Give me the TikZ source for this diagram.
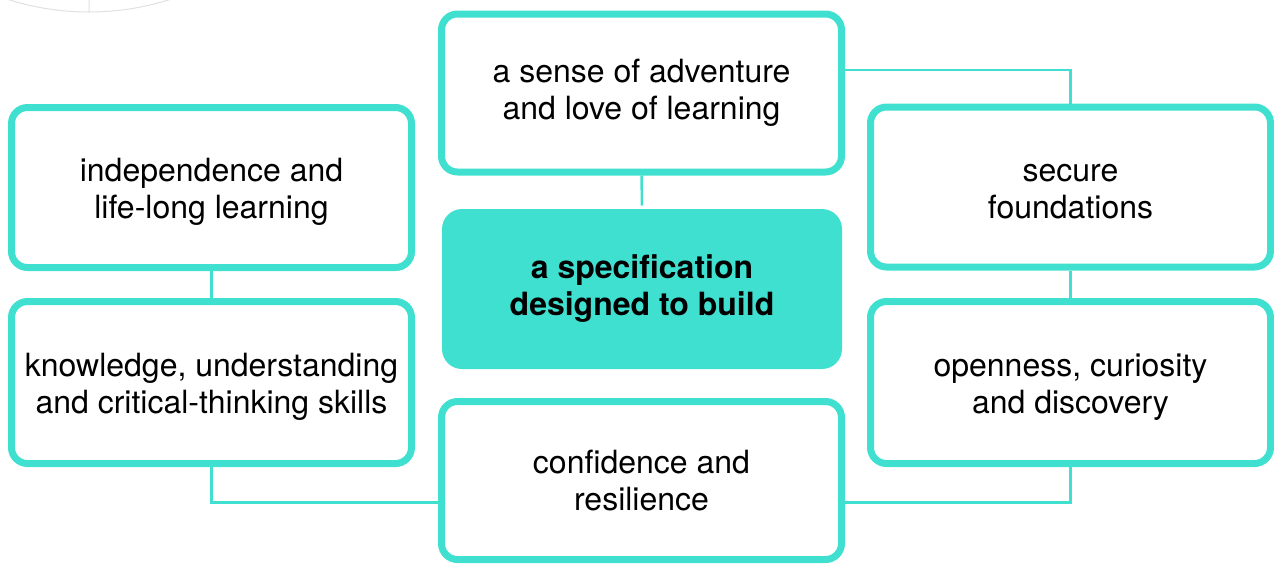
\documentclass[tikz,border=0pt]{standalone}
\usepackage{fontspec}
\setmainfont{TeX Gyre Heros}
\usepackage{tikz}
\definecolor{turq}{RGB}{64,224,208}

\begin{document}
\begin{tikzpicture}[x=1pt,y=-1pt]
			\tikzset{goal/.style={draw=turq,line width=7pt,fill=white,rounded corners=16pt,minimum width=400pt,minimum height=160pt,align=center,inner sep=2pt,font=\fontsize{32}{37}\selectfont}}
			\tikzset{side/.style={goal,text height=66pt,text depth=4pt}}
			\tikzset{hub/.style={goal,draw=none,fill=turq,minimum width=400pt,minimum height=160pt,rounded corners=20pt,font=\fontsize{32}{37}\selectfont\bfseries}}
			\tikzset{link/.style={draw=turq,line width=2.5pt}}
			\useasboundingbox (0,0) rectangle (1274,563);
			\draw[black!12,line width=1pt] (89,-254) circle (266pt) (89,0) -- (89,12);
			\node[hub] (spec) at (642,289) {a specification\\designed to build};
			\node[goal,minimum height=158pt] (adven) at (641.5,93) {a sense of adventure\\and love of learning};
			\node[side] (indep) at (211.5,187.5) {independence and\\life-long learning};
			\node[side,minimum height=162pt] (knowl) at (211.5,382.5) {knowledge, understanding\\and critical-thinking skills};
			\node[side] (secur) at (1070.5,187) {secure\\foundations};
			\node[side,minimum height=162pt] (curio) at (1070.5,382.5) {openness, curiosity\\and discovery};
			\node[goal,minimum height=158pt] (resil) at (641.5,480.5) {confidence and\\resilience};
			\draw[link] (adven.south) -- (spec.north);
			\draw[link] ([yshift=23pt]adven.east) -| (secur.north);
			\draw[link] (secur.south) -- (curio.north);
			\draw[link] (curio.south) |- ([yshift=-22pt]resil.east);
			\draw[link] (indep.south) -- (knowl.north);
			\draw[link] (knowl.south) |- ([yshift=-22pt]resil.west);
		\end{tikzpicture}
\end{document}
